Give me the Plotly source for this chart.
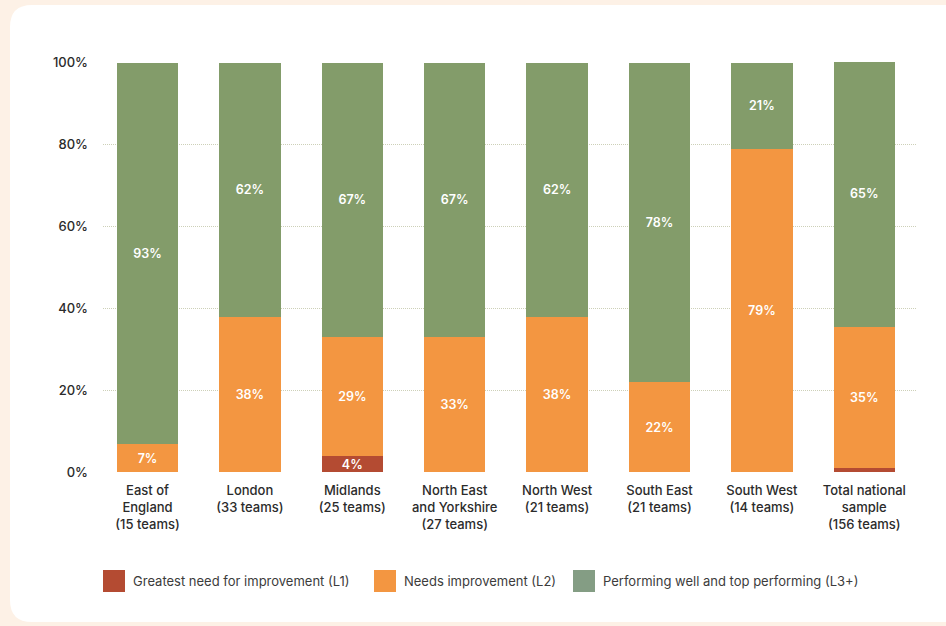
import plotly.graph_objects as go

categories = ["East of<br>England<br>(15 teams)", "London<br>(33 teams)", "Midlands<br>(25 teams)",
              "North East<br>and Yorkshire<br>(27 teams)", "North West<br>(21 teams)",
              "South East<br>(21 teams)", "South West<br>(14 teams)", "Total national<br>sample<br>(156 teams)"]
l1_greatest_need = [0, 0, 4, 0, 0, 0, 0, 1]
l2_needs_improvement = [7, 38, 29, 33, 38, 22, 79, 34.6]
l3_performing_well = [93, 62, 67, 67, 62, 78, 21, 65]
y_ticks = [0, 20, 40, 60, 80, 100]
series_names = ["Greatest need for improvement (L1)", "Needs improvement (L2)",
                "Performing well and top performing (L3+)"]
series_colors = ["#b44b32", "#f39641", "#839c6a"]
legend_colors = ["#b44b32", "#f39641", "#849d84"]

FONT = "Inter, Lato, sans-serif"
W, H = 946, 626
ML, MR, MT, MB = 103, 30, 62, 153
PW, PH = W - ML - MR, H - MT - MB

fig = go.Figure()
xs = list(range(len(categories)))
for name, vals, col in zip(series_names, [l1_greatest_need, l2_needs_improvement, l3_performing_well], series_colors):
    fig.add_trace(go.Bar(
        x=xs, y=vals, name=name, marker=dict(color=col, line=dict(width=0)),
        width=0.6,
        text=[f"{v:.0f}%" if v >= 3 else "" for v in vals],
        textposition="inside", insidetextanchor="middle",
        textfont=dict(color="white", size=12.5, family=FONT, weight=600),
        constraintext="none", showlegend=False, hoverinfo="skip"))

def px2paper(x, y):
    return (x - ML) / PW, (H - MB - y) / PH

r = 22
x0, y0, x1, y1 = 10, 5, 960, 622
def P(x, y):
    a, b = px2paper(x, y)
    return f"{a:.5f},{b:.5f}"
path = (f"M {P(x0+r, y0)} L {P(x1, y0)} L {P(x1, y1)} L {P(x0+r, y1)} "
        f"Q {P(x0, y1)} {P(x0, y1-r)} L {P(x0, y0+r)} Q {P(x0, y0)} {P(x0+r, y0)} Z")
shapes = [dict(type="path", path=path, xref="paper", yref="paper", fillcolor="white",
               line=dict(width=0), layer="below")]

annotations = []
legend_items = [(103, 131), (374, 402), (573, 601)]
for (mx, tx), name, col in zip(legend_items, series_names, legend_colors):
    ax0, ay0 = px2paper(mx, 570)
    ax1, ay1 = px2paper(mx + 22, 592)
    shapes.append(dict(type="rect", xref="paper", yref="paper", x0=ax0, x1=ax1, y0=ay1, y1=ay0,
                       fillcolor=col, line=dict(width=0)))
    tx_p, ty_p = px2paper(tx, 581)
    annotations.append(dict(text=name, x=tx_p, y=ty_p, xref="paper", yref="paper",
                            xanchor="left", yanchor="middle", showarrow=False,
                            font=dict(size=13, color="#3c3c3c", family=FONT)))

fig.update_layout(
    width=W, height=H, margin=dict(l=ML, r=MR, t=MT, b=MB),
    paper_bgcolor="#fdf1e6", plot_bgcolor="rgba(0,0,0,0)",
    barmode="stack", showlegend=False,
    shapes=shapes, annotations=annotations,
    font=dict(family=FONT, color="#2b2b2b"),
    xaxis=dict(tickvals=xs, ticktext=categories, range=[-0.4346, 7.505],
               showgrid=False, zeroline=False, showline=False, ticks="",
               ticklabelstandoff=8,
               tickfont=dict(size=13, color="#2b2b2b", family=FONT, weight=500)),
    yaxis=dict(range=[-0.15, 100.15], tickvals=y_ticks, ticktext=[f"{t}%" for t in y_ticks],
               showgrid=True, gridcolor="#cdd0b8", griddash="1px,1px", gridwidth=1,
               zeroline=False, showline=False, ticks="", ticklabelstandoff=14,
               tickfont=dict(size=13, color="#2b2b2b", family=FONT, weight=500)),
)

fig.write_html("out.html", config={"displayModeBar": False},
               post_script="document.body.style.margin='0';")
